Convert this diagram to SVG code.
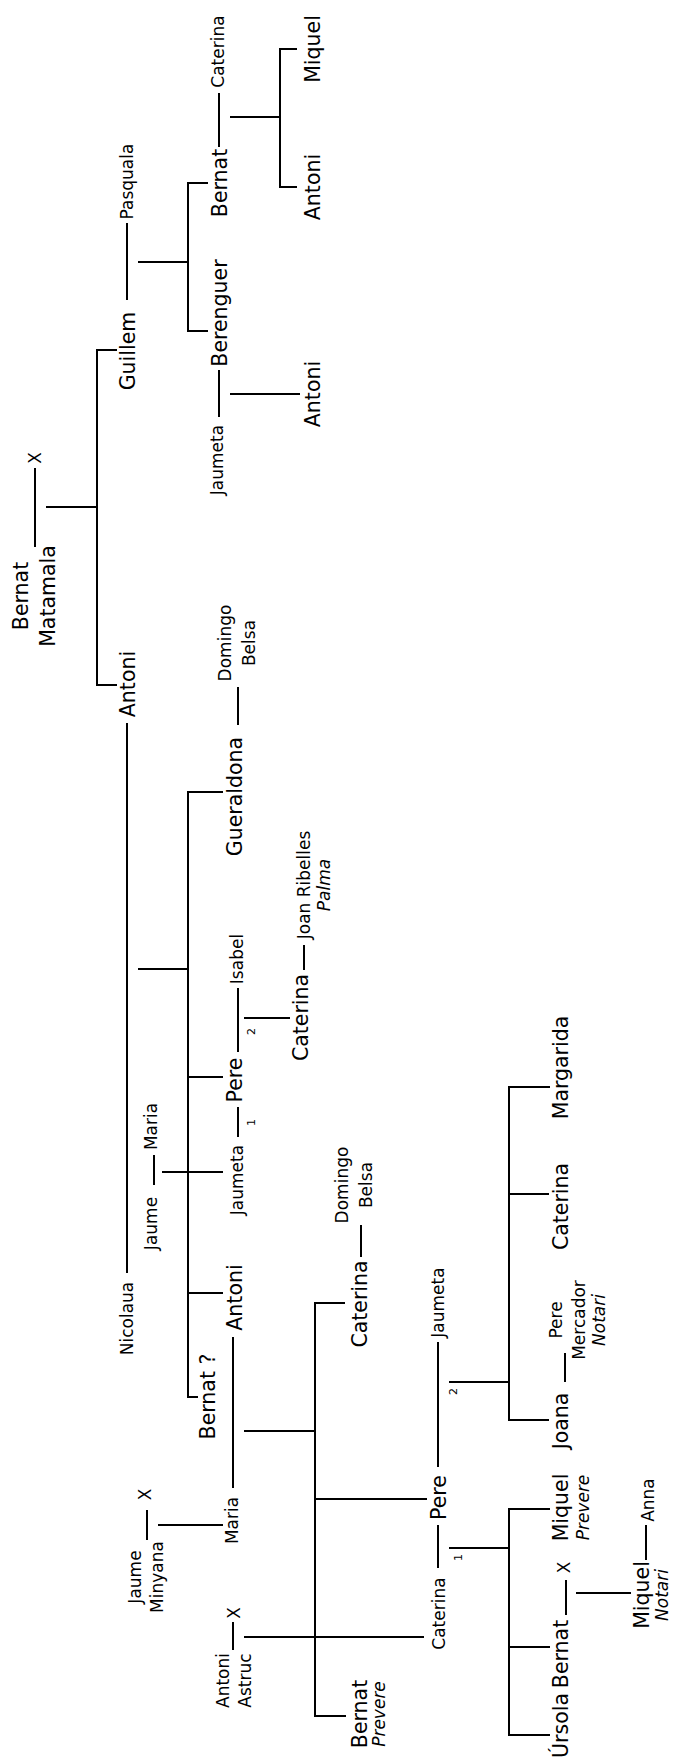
<svg xmlns="http://www.w3.org/2000/svg" width="678" height="1762" viewBox="0 0 678 1762">
<style>
text{font-family:"DejaVu Sans","Liberation Sans",sans-serif;fill:#000;text-anchor:middle}
.L{font-size:20.5px}
.S{font-size:17px}
.I{font-style:italic;font-size:17px}
.T{font-size:11px}
#connectors line,#connectors path{stroke:#000;stroke-width:2;fill:none}
</style>
<rect width="678" height="1762" fill="#fff"/>
<g id="connectors">
<line x1="219" y1="93" x2="219" y2="147"/>
<line x1="127" y1="223" x2="127" y2="300"/>
<line x1="219" y1="370" x2="219" y2="417"/>
<line x1="35" y1="468" x2="35" y2="547"/>
<line x1="238" y1="687" x2="238" y2="725"/>
<line x1="127" y1="723" x2="127" y2="1273"/>
<line x1="304" y1="945" x2="304" y2="970"/>
<line x1="238" y1="988" x2="238" y2="1052"/>
<line x1="238" y1="1107" x2="238" y2="1137"/>
<line x1="154" y1="1155" x2="154" y2="1185"/>
<line x1="233" y1="1337" x2="233" y2="1488"/>
<line x1="361" y1="1225" x2="361" y2="1257"/>
<line x1="438" y1="1342" x2="438" y2="1467"/>
<line x1="565" y1="1353" x2="565" y2="1382"/>
<line x1="438" y1="1525" x2="438" y2="1568"/>
<line x1="566" y1="1580" x2="566" y2="1615"/>
<line x1="646" y1="1525" x2="646" y2="1560"/>
<line x1="147" y1="1510" x2="147" y2="1540"/>
<line x1="233" y1="1622" x2="233" y2="1650"/>
<line x1="230" y1="117" x2="280" y2="117"/>
<line x1="138" y1="262" x2="188" y2="262"/>
<line x1="230" y1="394" x2="300" y2="394"/>
<line x1="46" y1="507" x2="97" y2="507"/>
<line x1="138" y1="969" x2="188" y2="969"/>
<line x1="244" y1="1018" x2="290" y2="1018"/>
<line x1="162" y1="1172" x2="223" y2="1172"/>
<line x1="244" y1="1431" x2="315" y2="1431"/>
<line x1="449" y1="1382" x2="509" y2="1382"/>
<line x1="449" y1="1548" x2="509" y2="1548"/>
<line x1="576" y1="1593" x2="631" y2="1593"/>
<line x1="158" y1="1525" x2="223" y2="1525"/>
<line x1="244" y1="1637" x2="424" y2="1637"/>
<path d="M297 49H280V187H297"/>
<path d="M208 183H188V331H208"/>
<path d="M117 350H97V685H117"/>
<path d="M223 792H188V1397H198M188 1077H223M188 1293H223"/>
<path d="M345 1303H315V1716H346M315 1499H427"/>
<path d="M550 1087H509V1420H549M509 1194H549"/>
<path d="M550 1509H509V1735H550M509 1647H550"/>
</g>
<g id="nodes" transform="matrix(0,-1,1,0,0,1762)">
<g id="n-caterina-1"><text class="S" x="1710.5" y="223.5">Caterina</text></g>
<g id="n-miquel-1"><text class="L" x="1713" y="320">Miquel</text></g>
<g id="n-antoni-1"><text class="L" x="1575" y="320">Antoni</text></g>
<g id="n-bernat-1"><text class="L" x="1579" y="227">Bernat</text></g>
<g id="n-pasquala"><text class="S" x="1580.5" y="132.5">Pasquala</text></g>
<g id="n-guillem"><text class="L" x="1411" y="135">Guillem</text></g>
<g id="n-berenguer"><text class="L" x="1449" y="227">Berenguer</text></g>
<g id="n-jaumeta-1"><text class="S" x="1302" y="222.5">Jaumeta</text></g>
<g id="n-antoni-2"><text class="L" x="1368" y="320">Antoni</text></g>
<g id="n-bernat-matamala"><text class="L" x="1166" y="28">Bernat<tspan x="1166" y="55">Matamala</tspan></text></g>
<g id="n-x-1"><text class="S" x="1304" y="40.5">X</text></g>
<g id="n-antoni-3"><text class="L" x="1078" y="135">Antoni</text></g>
<g id="n-domingo-belsa-1"><text class="S" x="1119" y="230.5">Domingo<tspan x="1119" y="254.5">Belsa</tspan></text></g>
<g id="n-gueraldona"><text class="L" x="965.5" y="242">Gueraldona</text></g>
<g id="n-joan-ribelles"><text class="S" x="877" y="309.5">Joan Ribelles<tspan class="I" x="877" y="329.5">Palma</tspan></text></g>
<g id="n-isabel"><text class="S" x="803" y="242.5">Isabel</text></g>
<g id="n-sub-2a"><text class="T" x="730.5" y="255">2</text></g>
<g id="n-caterina-2"><text class="L" x="744.5" y="308">Caterina</text></g>
<g id="n-pere-1"><text class="L" x="682" y="242">Pere</text></g>
<g id="n-sub-1a"><text class="T" x="639.5" y="255">1</text></g>
<g id="n-jaumeta-2"><text class="S" x="582" y="242.5">Jaumeta</text></g>
<g id="n-maria-1"><text class="S" x="635.5" y="156.5">Maria</text></g>
<g id="n-jaume"><text class="S" x="538.5" y="156.5">Jaume</text></g>
<g id="n-nicolaua"><text class="S" x="443.5" y="132.5">Nicolaua</text></g>
<g id="n-antoni-4"><text class="L" x="464.5" y="242">Antoni</text></g>
<g id="n-bernat-q"><text class="L" x="365.5" y="215">Bernat ?</text></g>
<g id="n-maria-2"><text class="S" x="241.5" y="237.5">Maria</text></g>
<g id="n-jaume-minyana"><text class="S" x="185" y="140.5">Jaume<tspan x="185" y="162.5">Minyana</tspan></text></g>
<g id="n-x-2"><text class="S" x="267.5" y="150.5">X</text></g>
<g id="n-antoni-astruc"><text class="S" x="81.5" y="228.5">Antoni<tspan x="81.5" y="250.5">Astruc</tspan></text></g>
<g id="n-x-3"><text class="S" x="149" y="239.5">X</text></g>
<g id="n-caterina-3"><text class="L" x="458" y="366.5">Caterina</text></g>
<g id="n-domingo-belsa-2"><text class="S" x="577" y="347.5">Domingo<tspan x="577" y="371.5">Belsa</tspan></text></g>
<g id="n-jaumeta-3"><text class="S" x="459.5" y="443.5">Jaumeta</text></g>
<g id="n-pere-2"><text class="L" x="264.5" y="446">Pere</text></g>
<g id="n-sub-2b"><text class="T" x="370.5" y="457">2</text></g>
<g id="n-caterina-4"><text class="S" x="148.5" y="444.5">Caterina</text></g>
<g id="n-sub-1b"><text class="T" x="204.5" y="462">1</text></g>
<g id="n-margarida"><text class="L" x="694.5" y="568">Margarida</text></g>
<g id="n-caterina-5"><text class="L" x="555.5" y="568">Caterina</text></g>
<g id="n-joana"><text class="L" x="341" y="568">Joana</text></g>
<g id="n-pere-mercador"><text class="S" x="442" y="561.5">Pere<tspan x="442" y="584.5">Mercador</tspan><tspan class="I" x="442" y="604.5">Notari</tspan></text></g>
<g id="n-miquel-prevere"><text class="L" x="254.5" y="568">Miquel<tspan class="I" x="254.5" y="589">Prevere</tspan></text></g>
<g id="n-bernat-2"><text class="L" x="108" y="568">Bernat</text></g>
<g id="n-x-4"><text class="S" x="194.5" y="569.5">X</text></g>
<g id="n-miquel-notari"><text class="L" x="167" y="649">Miquel<tspan class="I" x="167" y="668">Notari</tspan></text></g>
<g id="n-anna"><text class="S" x="262" y="653.5">Anna</text></g>
<g id="n-ursola"><text class="L" x="36.5" y="568">Úrsola</text></g>
<g id="n-bernat-prevere"><text class="L" x="48" y="366.5">Bernat<tspan class="I" x="48" y="384.5">Prevere</tspan></text></g>
</g>
</svg>
